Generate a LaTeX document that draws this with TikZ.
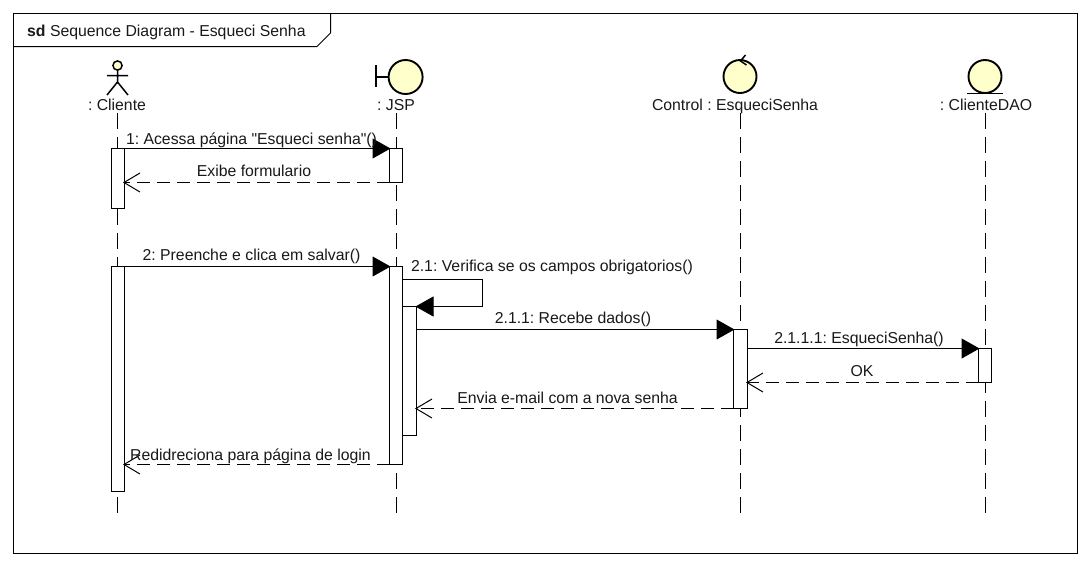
\documentclass[tikz,border=0pt]{standalone}
\usepackage{fontspec}
\newfontfamily\lblfont{Liberation Sans}
\usetikzlibrary{arrows.meta}
\definecolor{objfill}{HTML}{FFFFCC}
\tikzset{
  lbl/.style={inner sep=0pt,anchor=base,font=\lblfont\frenchspacing\fontsize{15.8}{18}\selectfont,text=black!90},
  act/.style={draw=black,fill=white,line width=1pt,minimum width=13pt,inner sep=0pt,outer sep=0pt},
  life/.style={draw=black,line width=1pt,dash pattern=on 16pt off 8pt},
  sync/.style={draw=black,line width=1pt,shorten >=-1pt,-{Triangle[length=18pt,width=20pt]}},
  ret/.style={draw=black,line width=1pt,dash pattern=on 13pt off 7pt,shorten >=-1.5pt,-{Straight Barb[length=16pt,width=19pt,line width=1pt]}},
  icon/.style={draw=black,line width=1.9pt,fill=objfill},
  iconline/.style={draw=black,line width=1.9pt},
}
\begin{document}
\begin{tikzpicture}[x=1pt,y=-1pt]
\useasboundingbox (0,0) rectangle (1092,566);
\fill[white] (0,0) rectangle (1092,566);
% frame
\draw[line width=1pt] (13.5,13.5) rectangle (1077.5,553.5);
\draw[line width=1pt] (13.5,46.5) -- (317,46.5) -- (330.5,33) -- (330.5,13.5);
\node[lbl,anchor=base west] (title) at (27,36) {\textbf{sd} Sequence Diagram - Esqueci Senha};
% actor
\draw[line width=1.5pt,fill=objfill] (117.5,65.5) circle (4.6);
\draw[line width=1.5pt] (117.5,70) -- (117.5,82) (107,75.5) -- (128,75.5) (107,95) -- (117.5,82) -- (128,95);
% boundary
\draw[iconline] (376,65) -- (376,87) (376,77) -- (388,77);
\draw[icon] (405.6,77) circle (17);
% control
\draw[icon] (740,76.5) circle (16.5);
\draw[line width=1.5pt] (745.5,55) -- (740.5,61) -- (746.5,65);
% entity
\draw[icon] (985,76.5) circle (16.5);
\draw[line width=1.7pt] (967,93.5) -- (1003,93.5);
% lifeline labels
\node[lbl] (lcli) at (117,110) {: Cliente};
\node[lbl] (ljsp) at (396,110) {: JSP};
\node[lbl] (lctl) at (735,110) {Control : EsqueciSenha};
\node[lbl] (ldao) at (986,110) {: ClienteDAO};
% lifelines
\coordinate (tcli) at (117.5,113); \coordinate (bcli) at (117.5,513.5);
\coordinate (tjsp) at (396.5,113); \coordinate (bjsp) at (396.5,513.5);
\coordinate (tctl) at (740.5,113); \coordinate (bctl) at (740.5,513.5);
\coordinate (tdao) at (985.5,113); \coordinate (bdao) at (985.5,513.5);
\draw[life] (tcli) -- (bcli);
\draw[life] (tjsp) -- (bjsp);
\draw[life] (tctl) -- (bctl);
\draw[life] (tdao) -- (bdao);
% activations
\node[act,minimum height=60pt] (c1) at (118,178.5) {};
\node[act,minimum height=225pt] (c2) at (118,379) {};
\node[act,minimum height=34pt] (j1) at (396,165.5) {};
\node[act,minimum height=198pt] (j2) at (396,365.5) {};
\node[act,minimum height=129pt,minimum width=14pt] (j3) at (409.5,371) {};
\node[act,minimum height=79pt,minimum width=14pt] (k1) at (740.5,369) {};
\node[act,minimum height=34pt] (d1) at (985,365.5) {};
% loop corner points
\coordinate (s1) at (482.5,279.5);
\coordinate (s2) at (482.5,306.5);
\coordinate (s0) at (j2.east |- s1);
% messages
\draw[sync] (c1.north east) -- (j1.north west);
\draw[ret] (j1.south west) -- (c1.east |- j1.south);
\draw[sync] (c2.north east) -- (j2.north west);
\draw[sync] (s0) -- (s1) -- (s2) -- (j3.north east);
\coordinate (m1) at (j3.east |- k1.north);
\draw[sync] (m1) -- (k1.north west);
\draw[sync] (k1.east |- d1.north) -- (d1.north west);
\draw[ret] (d1.south west) -- (k1.east |- d1.south);
\draw[ret] (k1.south west) -- (j3.east |- k1.south);
\draw[ret] (j2.south west) -- (c2.east |- j2.south);
% message labels
\node[lbl] (n1) at (251.5,144) {1: Acessa página "Esqueci senha"()};
\node[lbl] (n2) at (254,176) {Exibe formulario};
\node[lbl] (n3) at (251.5,260) {2: Preenche e clica em salvar()};
\node[lbl] (n4) at (552,271) {2.1: Verifica se os campos obrigatorios()};
\node[lbl] (n5) at (573,323) {2.1.1: Recebe dados()};
\node[lbl] (n6) at (859,343) {2.1.1.1: EsqueciSenha()};
\node[lbl] (n7) at (862,376) {OK};
\node[lbl] (n8) at (567.5,403) {Envia e-mail com a nova senha};
\node[lbl] (n9) at (250.5,460) {Redidreciona para página de login};
\end{tikzpicture}
\end{document}
